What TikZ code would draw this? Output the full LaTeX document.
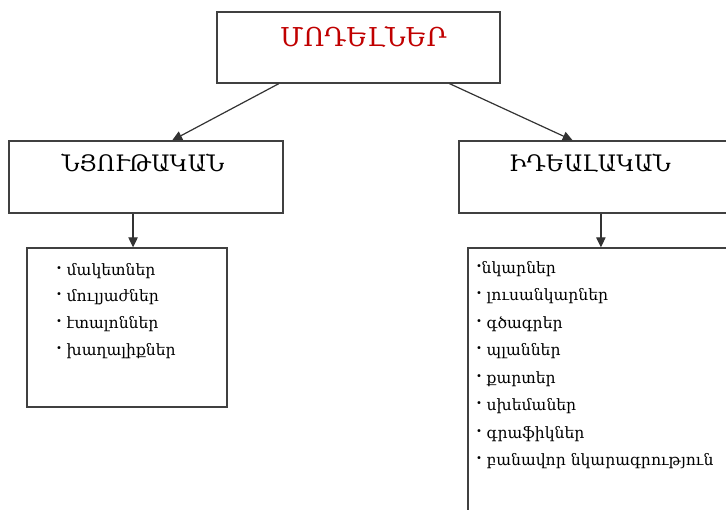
\documentclass[tikz,border=0pt]{standalone}
\usepackage{fontspec}
\setmainfont{DejaVu Serif}
\usetikzlibrary{arrows.meta,calc}
\definecolor{titlered}{HTML}{C00000}
\tikzset{
  box/.style={draw=black!75,line width=0.9pt,rectangle,inner sep=0pt},
  head/.style={font=\fontsize{17}{20}\selectfont},
  item/.style={font=\fontsize{11.7}{20}\selectfont,align=left,anchor=north west,inner sep=0pt},
  arr/.style={-{Triangle[length=7.5pt,width=7pt]},draw=black!80,line width=0.9pt}
}
\newcommand{\bul}{\raisebox{0.25ex}{\textbf{·}}}

\begin{document}
\begin{tikzpicture}[x=0.75pt,y=-0.75pt]
\useasboundingbox (0,0) rectangle (726,510);
\begin{scope}
\clip (0,0) rectangle (726,510);

% top level
\node[box,minimum width=283*0.75pt,minimum height=71*0.75pt] (models) at (358.5,47.5) {};
\node[anchor=north,text=titlered,font=\fontsize{19.5}{24}\selectfont] (modelst) at ($(models.north)+(5,10)$) {ՄՈԴԵԼՆԵՐ};

% second level
\node[box,minimum width=274*0.75pt,minimum height=72*0.75pt] (mat) at (146,177) {};
\node[head,anchor=north] (matt) at ($(mat.north)+(-3,9)$) {ՆՅՈՒԹԱԿԱՆ};
\node[box,minimum width=281*0.75pt,minimum height=72*0.75pt] (ideal) at (599.5,177) {};
\node[head,anchor=north] (idealt) at ($(ideal.north)+(-9.5,9)$) {ԻԴԵԱԼԱԿԱՆ};

% lists
\node[box,minimum width=200*0.75pt,minimum height=159*0.75pt] (matl) at (127,327.5) {};
\node[item] (matli) at (56,263) {\bul\ մակետներ\\ \bul\ մուլյաժներ\\ \bul\ էտալոններ\\ \bul\ խաղալիքներ};
\node[box,minimum width=281*0.75pt,minimum height=290*0.75pt] (ideall) at (608.5,393) {};
\node[item,font=\fontsize{11.7}{20.6}\selectfont] (idealli) at (476,261) {\bul նկարներ\\ \bul\ լուսանկարներ\\ \bul\ գծագրեր\\ \bul\ պլաններ\\ \bul\ քարտեր\\ \bul\ սխեմաներ\\ \bul\ գրաֆիկներ\\ \bul\ բանավոր նկարագրություն};

% connectors
\coordinate (ma) at ($(models.south west)!0.22!(models.south east)$);
\coordinate (mb) at ($(models.south west)!0.82!(models.south east)$);
\coordinate (la) at ($(mat.north west)!0.595!(mat.north east)$);
\coordinate (ra) at ($(ideal.north west)!0.405!(ideal.north east)$);
\coordinate (ld) at ($(mat.south west)!0.453!(mat.south east)$);
\coordinate (rd) at ($(ideal.south west)!0.505!(ideal.south east)$);
\draw[arr] (ma) -- (la);
\draw[arr] (mb) -- (ra);
\draw[arr] (ld) -- (ld |- matl.north);
\draw[arr] (rd) -- (rd |- ideall.north);
\end{scope}
\end{tikzpicture}
\end{document}
